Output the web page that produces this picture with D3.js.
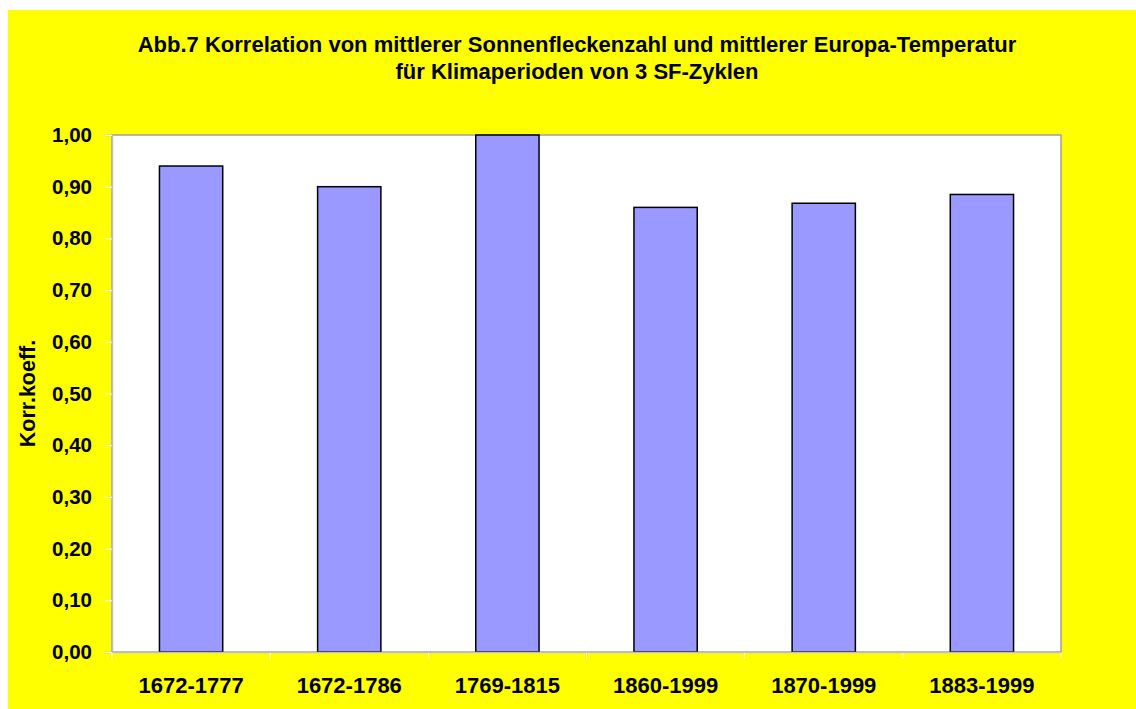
<!DOCTYPE html>
<html>
<head>
<meta charset="utf-8">
<script src="https://cdn.jsdelivr.net/npm/d3@7"></script>
<style>
  html, body { margin: 0; padding: 0; background: #fff; }
  text { font-family: Arial, "Liberation Sans", sans-serif; font-weight: bold; }
</style>
</head>
<body>
<div id="chart"></div>
<script>
// data
const periods = ["1672-1777", "1672-1786", "1769-1815", "1860-1999", "1870-1999", "1883-1999"];
const korrKoeff = [0.94, 0.90, 1.00, 0.86, 0.868, 0.885];
const yTicks = [0, 0.1, 0.2, 0.3, 0.4, 0.5, 0.6, 0.7, 0.8, 0.9, 1.0];
const titleLines = ["Abb.7 Korrelation von mittlerer Sonnenfleckenzahl und mittlerer Europa-Temperatur",
                    "für Klimaperioden von 3 SF-Zyklen"];
const yTitle = "Korr.koeff.";

const W = 1136, H = 709;
const plot = {left: 112, right: 1061, top: 135, bottom: 652};

const svg = d3.select("#chart").append("svg")
    .attr("width", W).attr("height", H);

// yellow chart area
svg.append("rect")
    .attr("x", 8).attr("y", 10)
    .attr("width", W - 8).attr("height", H - 10)
    .attr("fill", "#ffff00");

// title
svg.selectAll(".title").data(titleLines).enter()
    .append("text")
    .attr("class", "title")
    .attr("x", 577)
    .attr("y", (d, i) => 52 + i * 27)
    .attr("text-anchor", "middle")
    .style("font-size", "22px")
    .text(d => d);

const x = d3.scaleBand().domain(periods).range([plot.left, plot.right]);
const y = d3.scaleLinear().domain([0, 1]).range([plot.bottom, plot.top]);

// plot area
svg.append("rect")
    .attr("x", plot.left).attr("y", plot.top)
    .attr("width", plot.right - plot.left).attr("height", plot.bottom - plot.top)
    .attr("fill", "#fff")
    .attr("stroke", "#a0a0a0").attr("stroke-width", 1.5);

// bars
const barW = x.bandwidth() * 0.4;
svg.selectAll(".bar").data(periods).enter()
    .append("rect")
    .attr("class", "bar")
    .attr("x", d => x(d) + (x.bandwidth() - barW) / 2)
    .attr("y", (d, i) => y(korrKoeff[i]))
    .attr("width", barW)
    .attr("height", (d, i) => y(0) - y(korrKoeff[i]))
    .attr("fill", "#9999ff")
    .attr("stroke", "#000").attr("stroke-width", 1.5);

// y axis
const yAxis = svg.append("g")
    .attr("transform", `translate(${plot.left},0)`)
    .call(d3.axisLeft(y).tickValues(yTicks).tickSize(7).tickPadding(13)
        .tickFormat(d => d3.format(".2f")(d).replace(".", ",")));
yAxis.select(".domain").attr("stroke", "#c0c0c0").attr("stroke-width", 1.5);
yAxis.selectAll(".tick line").attr("stroke", "#fff");
yAxis.selectAll(".tick text")
    .style("font-size", "20.5px").attr("fill", "#000")
    .style("font-family", "Arial, 'Liberation Sans', sans-serif");

// x axis: ticks at category boundaries
const xAxis = svg.append("g")
    .attr("transform", `translate(0,${plot.bottom})`)
    .call(d3.axisBottom(x).tickSize(0).tickPadding(25));
xAxis.select(".domain").attr("stroke", "#c0c0c0").attr("stroke-width", 1.5);
xAxis.selectAll(".tick text")
    .style("font-size", "22px").attr("fill", "#000")
    .style("font-family", "Arial, 'Liberation Sans', sans-serif");
const bounds = periods.map(d => x(d)).concat([plot.right]);
xAxis.selectAll(".sep").data(bounds).enter()
    .append("line")
    .attr("class", "sep")
    .attr("x1", d => d).attr("x2", d => d)
    .attr("y1", 1).attr("y2", 7)
    .attr("stroke", "#fff");

// y axis title
svg.append("text")
    .attr("transform", `translate(35,${(plot.top + plot.bottom) / 2}) rotate(-90)`)
    .attr("text-anchor", "middle")
    .style("font-size", "21.5px")
    .text(yTitle);
</script>
</body>
</html>
